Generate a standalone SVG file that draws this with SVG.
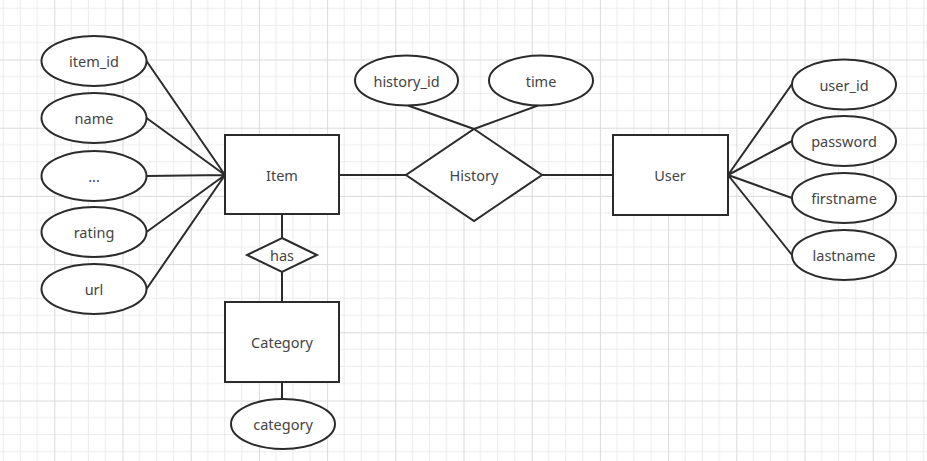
<svg xmlns="http://www.w3.org/2000/svg" width="927" height="461" viewBox="0 0 927 461">
<defs>
<pattern id="grid" patternUnits="userSpaceOnUse" x="54.3" y="59.5" width="68.2" height="68.2">
<path d="M17.05 0V68.2M34.1 0V68.2M51.15 0V68.2M0 17.05H68.2M0 34.1H68.2M0 51.15H68.2" stroke="#ebebeb" stroke-width="1" fill="none"/>
<path d="M0.5 0V68.2M0 0.5H68.2" stroke="#dadada" stroke-width="1" fill="none"/>
</pattern>
<style>
.s{fill:#fff;stroke:#2b2b2b;stroke-width:2}
.c{fill:none;stroke:#2b2b2b;stroke-width:2}
.t{font-family:"Noto Sans","Open Sans",sans-serif;font-size:14.5px;fill:#444;text-anchor:middle;dominant-baseline:central}
</style>
</defs>
<rect width="927" height="461" fill="#fff"/>
<rect width="927" height="461" fill="url(#grid)"/>
<g id="connectors">
<path class="c" d="M146.5 61L225 175M146.5 118L225 175M146.5 176L225 175M146.5 232L225 175M146.5 289L225 175"/>
<path class="c" d="M339 175H406M542 175H613"/>
<path class="c" d="M408 105.5L474 129M538 105.5L474 129"/>
<path class="c" d="M728 175L792 84M728 175L792 141M728 175L792 198M728 175L792 255"/>
<path class="c" d="M282 214V238M282 272V302M282 382V399"/>
</g>
<g id="item_id"><ellipse class="s" cx="94" cy="61" rx="52.5" ry="25"/><text class="t" x="94" y="61">item_id</text></g>
<g id="name"><ellipse class="s" cx="94" cy="118" rx="52.5" ry="25"/><text class="t" x="94" y="118">name</text></g>
<g id="etc"><ellipse class="s" cx="94" cy="176" rx="52.5" ry="25"/><text class="t" x="94" y="176">...</text></g>
<g id="rating"><ellipse class="s" cx="94" cy="232" rx="52.5" ry="25"/><text class="t" x="94" y="232">rating</text></g>
<g id="url"><ellipse class="s" cx="94" cy="289" rx="52.5" ry="25"/><text class="t" x="94" y="289">url</text></g>
<g id="Item"><rect class="s" x="225" y="135" width="114" height="79"/><text class="t" x="282" y="175">Item</text></g>
<g id="has"><polygon class="s" points="282,238 317,255 282,272 247,255"/><text class="t" x="282" y="255">has</text></g>
<g id="Category"><rect class="s" x="225" y="302" width="114" height="80"/><text class="t" x="282" y="342">Category</text></g>
<g id="category"><ellipse class="s" cx="283" cy="424" rx="52" ry="25"/><text class="t" x="283" y="424">category</text></g>
<g id="History"><polygon class="s" points="474,129 542,175 474,221 406,175"/><text class="t" x="474" y="175">History</text></g>
<g id="history_id"><ellipse class="s" cx="406.5" cy="80.5" rx="51.5" ry="25"/><text class="t" x="406.5" y="80.5">history_id</text></g>
<g id="time"><ellipse class="s" cx="541" cy="80.5" rx="52" ry="25"/><text class="t" x="541" y="80.5">time</text></g>
<g id="User"><rect class="s" x="613" y="135" width="115" height="80"/><text class="t" x="670" y="175">User</text></g>
<g id="user_id"><ellipse class="s" cx="844" cy="84.5" rx="52" ry="25"/><text class="t" x="844" y="84.5">user_id</text></g>
<g id="password"><ellipse class="s" cx="844" cy="141" rx="52" ry="25"/><text class="t" x="844" y="141">password</text></g>
<g id="firstname"><ellipse class="s" cx="844" cy="198" rx="52" ry="25"/><text class="t" x="844" y="198">firstname</text></g>
<g id="lastname"><ellipse class="s" cx="844" cy="255" rx="52" ry="25"/><text class="t" x="844" y="255">lastname</text></g>
</svg>
